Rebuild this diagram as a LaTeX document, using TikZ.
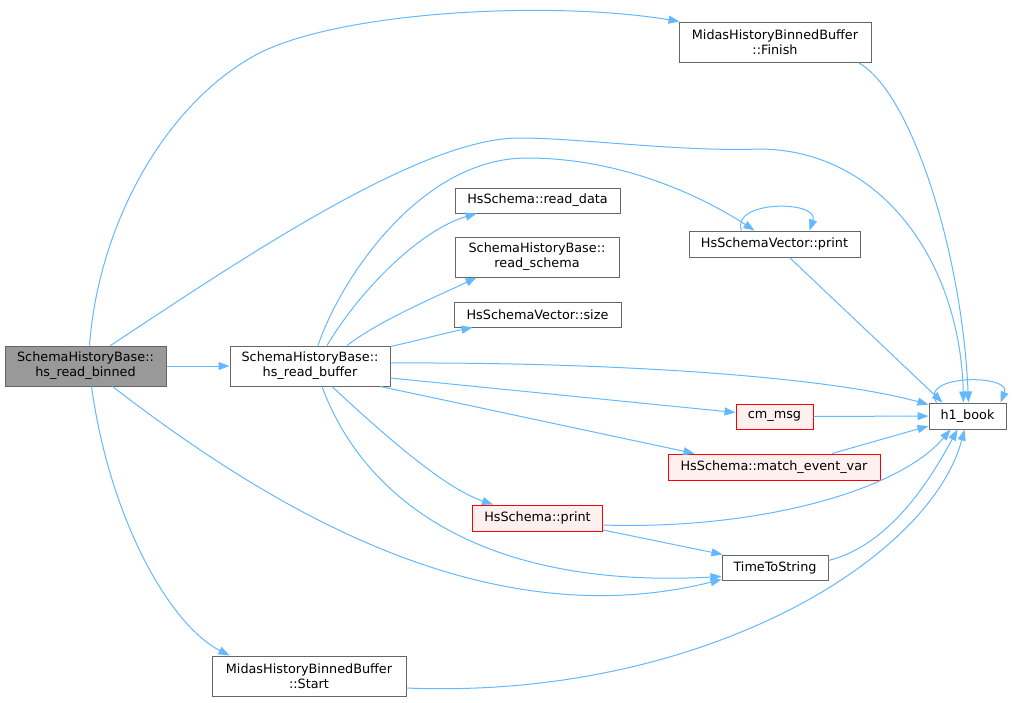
\documentclass[tikz,border=0pt]{standalone}
\usepackage{fontspec}
\setmainfont{DejaVu Sans}
\usetikzlibrary{arrows.meta}
\definecolor{edgeblue}{HTML}{63B8FF}
\definecolor{boxgray}{HTML}{666666}
\definecolor{mainfill}{HTML}{999999}
\definecolor{redfill}{HTML}{FFF0F0}
\tikzset{
  fn/.style={draw=boxgray, fill=white, line width=1pt, inner sep=0pt, align=center,
    font=\fontsize{12.8}{15}\selectfont},
  mainfn/.style={fn, fill=mainfill},
  redfn/.style={fn, draw=red, fill=redfill},
  call/.style={draw=edgeblue, line width=1pt, -{Triangle[length=11pt,width=8pt]}},
}
\begin{document}
\begin{tikzpicture}[x=1pt,y=-1pt]
      \useasboundingbox (0,0) rectangle (1012,702);
      \node[mainfn, minimum width=161, minimum height=40] (binned) at (85.5,366) {SchemaHistoryBase::\\hs\_read\_binned};
      \node[fn, minimum width=160, minimum height=40] (buffer) at (310,366) {SchemaHistoryBase::\\hs\_read\_buffer};
      \node[fn, minimum width=192, minimum height=40] (finish) at (775,42) {MidasHistoryBinnedBuffer\\::Finish};
      \node[fn, minimum width=165, minimum height=25] (readdata) at (537.5,200.5) {HsSchema::read\_data};
      \node[fn, minimum width=164, minimum height=40] (readschema) at (537,257) {SchemaHistoryBase::\\read\_schema};
      \node[fn, minimum width=167, minimum height=25] (vsize) at (537.5,314.5) {HsSchemaVector::size};
      \node[fn, minimum width=171, minimum height=26] (vprint) at (774.5,244) {HsSchemaVector::print};
      \node[fn, minimum width=77, minimum height=26] (hbook) at (967.5,416) {h1\_book};
      \node[redfn, minimum width=77, minimum height=25] (cmmsg) at (774.5,416.5) {cm\_msg};
      \node[redfn, minimum width=212, minimum height=26] (matchvar) at (774,467) {HsSchema::match\_event\_var};
      \node[redfn, minimum width=130, minimum height=26] (sprint) at (537.5,518) {HsSchema::print};
      \node[fn, minimum width=106, minimum height=25] (timestr) at (775,567.5) {TimeToString};
      \node[fn, minimum width=194, minimum height=40] (start) at (309,676) {MidasHistoryBinnedBuffer\\::Start};
      \begin{scope}[call]
        \draw ([xshift=4]binned.north) .. controls (98,230) and (160,110) .. (252,57)
          .. controls (332,11) and (550,0) .. ([xshift=1]finish.north west);
        \draw ([xshift=25]binned.north) .. controls (240,260) and (420,138) .. (519,138)
          .. controls (580,138) and (680,152) .. (760,149)
          .. controls (880,150) and (960,260) .. ([xshift=-4]hbook.north);
        \draw (binned) -- (buffer);
        \draw ([xshift=27]binned.south) .. controls (260,500) and (480,640) .. ([yshift=-12]timestr.west);
        \draw ([xshift=6]binned.south) .. controls (110,520) and (170,625) .. ([xshift=18]start.north west);
        \draw ([xshift=17]buffer.north) .. controls (360,290) and (420,230) .. ([xshift=22]readdata.south west);
        \draw ([xshift=37]buffer.north) .. controls (380,320) and (440,295) .. ([xshift=22]readschema.south west);
        \draw ([yshift=-1]buffer.north east) .. controls (420,340) and (445,333) .. ([xshift=19]vsize.south west);
        \draw ([xshift=8]buffer.north) .. controls (340,280) and (420,158) .. (527,158)
          .. controls (620,158) and (700,195) .. ([xshift=-20]vprint.north);
        \draw ([yshift=3]buffer.east) .. controls (600,362) and (820,375) .. ([yshift=-2]hbook.north west);
        \draw ([yshift=-12]buffer.east) -- ([yshift=4]cmmsg.west);
        \draw ([xshift=-10]buffer.south east) -- ([xshift=27]matchvar.north west);
        \draw ([xshift=22]buffer.south) .. controls (400,450) and (450,490) .. ([xshift=21]sprint.north west);
        \draw ([xshift=12]buffer.south) .. controls (360,490) and (470,590) .. ([yshift=-9]timestr.west);
        \draw ([xshift=83]finish.south) .. controls (910,90) and (962,250) .. ([xshift=1]hbook.north);
        \draw ([xshift=-33]vprint.north) .. controls (730,200) and (820,200) .. ([xshift=35]vprint.north);
        \draw ([xshift=15]vprint.south) -- ([xshift=14]hbook.north west);
        \draw (cmmsg) -- (hbook);
        \draw ([xshift=58]matchvar.north) -- ([yshift=-10]hbook.west);
        \draw ([yshift=-7]sprint.east) .. controls (760,530) and (900,490) .. ([xshift=-17]hbook.south);
        \draw ([yshift=-12]sprint.east) -- ([xshift=1]timestr.north west);
        \draw ([yshift=7]timestr.east) .. controls (890,545) and (930,480) .. ([xshift=-10]hbook.south);
        \draw ([yshift=-12]start.east) .. controls (700,700) and (930,560) .. ([xshift=-3]hbook.south);
        \draw ([xshift=8]hbook.north west) .. controls (918,374) and (1012,374) .. ([xshift=-6]hbook.north east);
      \end{scope}
    \end{tikzpicture}
\end{document}
